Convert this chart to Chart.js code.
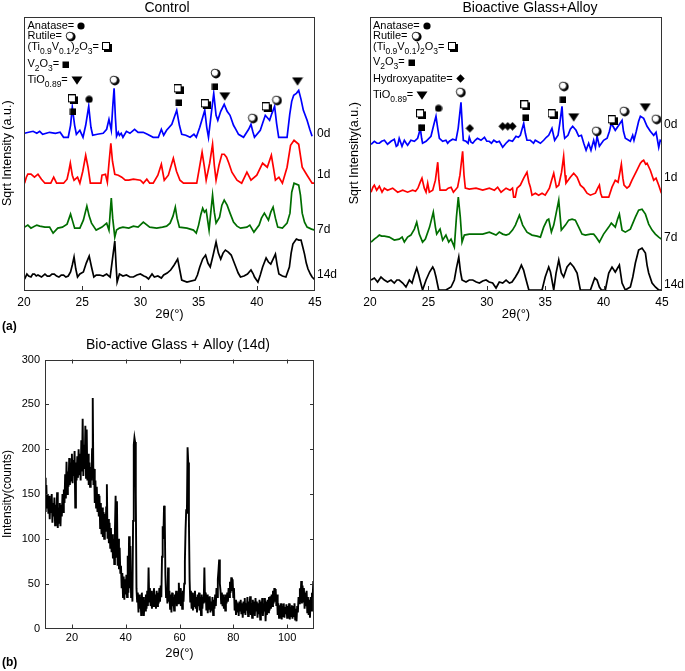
<!DOCTYPE html>
<html>
<head>
<meta charset="utf-8">
<script src="https://cdn.jsdelivr.net/npm/chart.js@4.4.0/dist/chart.umd.min.js"></script>
<style>
html, body { margin: 0; padding: 0; background: #fff; }
body { width: 685px; height: 671px; position: relative; overflow: hidden; }
canvas { position: absolute; }
.tag { position: absolute; font: bold 12px "Liberation Sans", Arial, sans-serif; color: #000; }
</style>
</head>
<body>
<canvas id="control" width="342" height="322" style="left:0;top:0"></canvas>
<canvas id="bioactive" width="343" height="322" style="left:342px;top:0"></canvas>
<canvas id="wide" width="342" height="341" style="left:0;top:330px"></canvas>
<div class="tag" style="left:2px;top:319px">(a)</div>
<div class="tag" style="left:2px;top:655px">(b)</div>
<script>
const FONT = '"Liberation Sans", Arial, sans-serif';
const INK = '#000';

// tick labels
const thetaTicks = [20, 25, 30, 35, 40, 45];
const wideTicks = [20, 40, 60, 80, 100];
const countTicks = [0, 50, 100, 150, 200, 250, 300];
const dayLabels = ['0d', '1d', '7d', '14d'];
const dayColors = ['#0000ff', '#ff0000', '#006e00', '#000000'];

// Control: [2theta, sqrt intensity above the trace baseline]
const control0d = [[20.05,4],[20.4,5],[20.78,6],[21.1,4],[21.35,6],[21.6,3],[22.2,5],[22.7,4],[23.1,5],[23.4,0],[23.8,0],[24.0,12],[24.15,30],[24.35,12],[24.5,3],[24.8,7],[25.07,0],[25.3,12],[25.56,31],[25.75,10],[25.9,2],[26.3,3],[26.8,4],[27.1,8],[27.3,18],[27.5,7],[27.62,30],[27.74,49],[27.85,20],[27.95,1],[28.1,5],[28.2,2],[28.35,4],[28.5,0],[28.8,6],[29.1,4],[29.5,8],[29.8,5],[30.24,5],[30.6,3],[31.1,0],[31.54,0],[31.8,8],[32.0,2],[32.25,7],[32.7,13],[33.12,27],[33.35,12],[33.55,3],[33.9,2],[34.27,0],[34.6,3],[34.8,0],[35.1,10],[35.53,27],[35.7,10],[35.85,0],[36.1,25],[36.3,44],[36.5,22],[36.65,17],[36.9,26],[37.2,33],[37.45,26],[37.7,22],[38.0,12],[38.2,8],[38.43,3],[38.86,0],[39.3,8],[39.5,13],[39.65,6],[39.8,0],[40.3,7],[40.5,14],[40.73,22],[41.1,17],[41.3,24],[41.53,31],[41.7,14],[41.88,0],[42.6,0],[42.83,23],[43.0,36],[43.17,42],[43.4,44],[43.6,47],[43.8,38],[44.0,27],[44.32,17],[44.55,8],[44.75,1]];
const control1d = [[20.05,0],[20.2,6],[20.33,9],[20.6,9],[20.9,6],[21.2,9],[21.5,4],[21.8,0],[22.3,0],[22.55,6],[22.8,0],[23.4,0],[23.7,4],[23.85,12],[23.98,20],[24.15,8],[24.3,3],[24.6,6],[24.8,0],[25.05,12],[25.3,28],[25.5,16],[25.7,0],[26.6,0],[26.7,8],[27.0,9],[27.16,1],[27.3,20],[27.46,40],[27.6,22],[27.8,9],[28.1,8],[28.4,6],[28.7,3],[29.0,3],[29.4,4],[30.0,3],[30.25,0],[30.55,4],[30.8,0],[31.1,0],[31.5,8],[31.8,19],[32.05,3],[32.4,8],[32.6,16],[32.83,25],[33.1,12],[33.4,3],[33.7,0],[34.84,0],[35.05,14],[35.3,31],[35.5,16],[35.65,3],[35.95,20],[36.2,39],[36.35,18],[36.5,3],[36.75,18],[37.0,29],[37.2,29],[37.4,26],[37.6,20],[37.86,11],[38.3,3],[38.7,0],[38.95,6],[39.15,11],[39.5,3],[40.0,8],[40.5,20],[40.9,16],[41.25,28],[41.45,14],[41.6,3],[41.9,6],[42.2,0],[42.6,16],[42.9,38],[43.2,43],[43.6,39],[43.9,16],[44.32,8],[44.75,0],[45.0,0]];
const control7d = [[20.05,3],[20.33,5],[20.6,2],[20.78,3],[21.1,5],[21.35,4],[21.8,3],[22.2,3],[22.5,-3],[22.9,2],[23.3,3],[23.7,6],[24.0,16],[24.2,8],[24.35,2],[24.8,2],[25.1,10],[25.4,24],[25.6,14],[25.8,7],[26.2,0],[26.7,3],[27.1,7],[27.3,0],[27.42,20],[27.5,32],[27.62,12],[27.8,-7],[27.95,0],[28.2,2],[28.5,3],[29.0,2],[29.4,4],[29.8,3],[30.25,8],[30.8,3],[31.4,2],[31.9,3],[32.25,4],[32.55,7],[32.8,14],[33.0,23],[33.15,12],[33.35,3],[34.0,2],[34.56,0],[34.8,-3],[35.0,5],[35.2,16],[35.35,22],[35.5,18],[35.65,20],[35.9,0],[36.05,18],[36.2,35],[36.35,18],[36.5,7],[36.8,13],[37.0,25],[37.2,30],[37.45,25],[37.7,17],[38.0,8],[38.3,4],[38.6,2],[39.15,3],[39.4,5],[39.75,-2],[40.2,5],[40.4,12],[40.65,17],[41.0,10],[41.2,18],[41.4,23],[41.6,12],[41.8,3],[42.2,2],[42.6,7],[42.85,17],[43.0,38],[43.2,47],[43.6,45],[43.75,35],[43.9,17],[44.1,8],[44.32,3],[44.7,1],[45.0,0]];
const control14d = [[20.05,-2],[20.25,3],[20.4,1],[20.6,0],[20.75,3],[20.9,3],[21.05,1],[21.2,2],[21.5,0],[21.8,3],[22.0,1],[22.2,1],[22.4,3],[22.6,3],[22.8,1],[23.0,0],[23.2,2],[23.4,2],[23.6,0],[23.8,1],[24.0,5],[24.15,12],[24.3,20],[24.45,8],[24.6,0],[24.8,3],[25.1,5],[25.35,14],[25.6,21],[25.8,10],[26.0,0],[26.2,2],[26.5,2],[26.8,1],[27.1,3],[27.4,0],[27.6,18],[27.8,36],[27.92,10],[28.0,-5],[28.2,3],[28.5,1],[28.8,2],[29.1,0],[29.4,0],[29.7,2],[30.0,3],[30.3,1],[30.5,0],[30.7,-2],[31.0,3],[31.2,0],[31.5,1],[31.8,-1],[32.0,2],[32.3,4],[32.6,7],[32.9,12],[33.2,18],[33.4,6],[33.55,-3],[34.0,-5],[34.7,-3],[34.9,2],[35.1,10],[35.35,18],[35.6,22],[35.8,14],[36.0,10],[36.25,22],[36.5,35],[36.7,24],[36.9,18],[37.1,24],[37.3,27],[37.55,25],[37.8,22],[38.0,16],[38.2,10],[38.4,4],[38.6,0],[38.9,1],[39.2,3],[39.5,7],[39.7,3],[39.8,0],[40.1,-5],[40.3,2],[40.5,10],[40.8,19],[41.0,15],[41.2,13],[41.4,18],[41.6,23],[41.75,12],[41.9,3],[42.2,1],[42.5,0],[42.8,10],[42.95,24],[43.1,33],[43.4,38],[43.6,37],[43.8,37],[43.95,30],[44.1,23],[44.25,14],[44.4,8],[44.6,3],[44.75,0],[45.0,-3]];
const controlOffsets = [153, 107, 60, 13];
const controlDayLevels = [157, 116, 60, 15];

// Bioactive Glass + Alloy
const bio0d = [[20.09,-1],[20.37,2],[20.6,0],[20.8,0],[21.0,2],[21.23,3],[21.5,-1],[21.8,2],[22.08,4],[22.25,-3],[22.37,-2],[22.5,5],[22.74,-3],[22.94,3],[23.1,0],[23.22,-2],[23.5,3],[23.8,2],[24.08,5],[24.2,10],[24.31,15],[24.42,5],[24.5,0],[24.8,2],[25.22,7],[25.45,18],[25.65,27],[25.8,15],[25.94,5],[26.22,2],[26.5,3],[26.65,0],[26.8,2],[27.08,4],[27.36,3],[27.55,15],[27.79,41],[27.9,18],[27.99,3],[28.22,2],[28.4,0],[28.5,6],[28.65,1],[28.8,0],[29.0,3],[29.2,5],[29.5,3],[29.8,6],[30.0,2],[30.2,2],[30.4,0],[30.6,3],[30.85,1],[31.07,2],[31.36,-4],[31.64,0],[31.9,3],[32.2,2],[32.5,7],[32.7,6],[32.87,8],[33.16,20],[33.3,10],[33.44,3],[33.73,3],[34.0,0],[34.15,3],[34.3,2],[34.59,0],[34.87,3],[35.1,6],[35.3,8],[35.58,15],[35.81,3],[36.1,8],[36.25,20],[36.44,37],[36.55,15],[36.67,5],[36.95,8],[37.15,14],[37.35,17],[37.64,13],[37.87,7],[38.1,8],[38.3,0],[38.5,-7],[38.72,0],[38.92,-7],[39.15,3],[39.3,-4],[39.44,7],[39.64,-3],[40.0,3],[40.3,5],[40.5,12],[40.66,20],[41.0,13],[41.24,17],[41.58,23],[41.7,12],[41.86,5],[42.29,2],[42.49,8],[42.6,3],[42.8,12],[43.0,22],[43.15,27],[43.43,25],[43.72,17],[44.0,12],[44.29,8],[44.49,11],[44.6,4],[44.72,-4],[44.85,3],[44.95,2]];
const bio1d = [[20.09,-2],[20.25,3],[20.37,5],[20.57,0],[20.8,4],[21.03,-2],[21.23,2],[21.5,0],[21.94,2],[22.37,-2],[22.8,0],[23.22,-2],[23.65,0],[23.9,-1],[24.1,2],[24.3,8],[24.45,12],[24.65,2],[24.8,-2],[24.94,7],[25.08,-2],[25.37,0],[25.6,10],[25.8,28],[25.9,10],[26.0,0],[26.5,0],[26.7,2],[26.94,3],[27.14,-2],[27.5,3],[27.7,15],[27.93,39],[28.05,15],[28.16,2],[28.5,1],[29.08,2],[29.65,0],[30.22,2],[30.65,0],[30.93,3],[31.22,-2],[31.65,2],[32.0,0],[32.2,2],[32.3,-7],[32.44,-7],[32.59,2],[32.87,5],[33.16,12],[33.44,18],[33.6,8],[33.73,3],[33.87,-5],[34.16,-3],[34.44,-5],[34.73,-3],[35.0,-5],[35.36,2],[35.55,10],[35.73,17],[35.96,3],[36.16,5],[36.4,18],[36.58,34],[36.7,15],[36.78,7],[37.15,13],[37.44,17],[37.73,13],[38.01,5],[38.3,2],[38.58,-3],[38.87,-5],[39.3,-3],[39.5,2],[39.64,5],[39.75,-3],[39.87,-7],[40.44,-7],[40.72,3],[41.0,10],[41.24,8],[41.4,18],[41.52,26],[41.65,12],[41.75,5],[42.0,2],[42.2,4],[42.43,10],[42.86,20],[43.15,27],[43.3,29],[43.43,30],[43.6,26],[43.72,27],[44.0,20],[44.29,10],[44.49,12],[44.72,5],[44.95,-3]];
const bio7d = [[20.09,-5],[20.37,-2],[20.6,0],[20.8,2],[21.0,1],[21.23,1],[21.65,0],[22.08,-3],[22.5,-2],[22.75,0],[22.94,-5],[23.22,0],[23.5,2],[23.8,8],[24.0,15],[24.22,3],[24.5,-5],[24.74,-2],[25.1,10],[25.42,25],[25.6,10],[25.71,3],[26.0,8],[26.22,-3],[26.5,2],[26.74,-5],[26.94,-2],[27.22,-10],[27.4,20],[27.56,40],[27.73,20],[27.88,-5],[28.08,2],[28.5,3],[29.08,3],[29.65,3],[30.22,5],[30.79,2],[31.07,5],[31.36,3],[31.65,2],[31.9,3],[32.2,7],[32.45,12],[32.79,22],[33.07,12],[33.44,5],[33.87,2],[34.3,1],[34.59,0],[34.87,10],[35.16,17],[35.3,18],[35.53,5],[35.73,12],[35.87,20],[36.16,37],[36.38,7],[36.73,12],[37.01,17],[37.3,18],[37.58,17],[37.87,10],[38.15,3],[38.44,2],[38.87,3],[39.15,3],[39.35,0],[39.64,-5],[40.0,3],[40.44,10],[40.66,14],[41.0,10],[41.2,18],[41.35,23],[41.58,7],[41.86,5],[42.29,8],[42.72,20],[43.0,27],[43.29,28],[43.58,23],[43.86,13],[44.15,7],[44.43,3],[44.72,0],[44.95,-2]];
const bio14d = [[20.09,0],[20.37,2],[20.65,-2],[20.94,3],[21.23,0],[21.5,-2],[21.8,0],[22.08,-3],[22.3,0],[22.5,0],[22.8,-3],[23.08,-7],[23.37,0],[23.6,-3],[23.8,5],[24.0,12],[24.15,6],[24.28,0],[24.5,-10],[24.8,0],[25.1,8],[25.37,13],[25.5,10],[25.65,3],[25.88,-10],[26.5,-10],[26.94,-7],[27.22,0],[27.4,12],[27.6,23],[27.75,8],[27.88,0],[28.22,-2],[28.5,0],[28.8,0],[29.1,-2],[29.37,-3],[29.65,-1],[29.94,0],[30.2,-2],[30.5,-3],[30.79,-8],[31.07,-2],[31.36,-3],[31.65,0],[31.94,-3],[32.16,-2],[32.45,3],[32.7,8],[32.96,15],[33.15,10],[33.3,3],[33.6,-10],[34.73,-10],[35.0,3],[35.3,13],[35.45,8],[35.53,3],[35.73,-10],[35.93,7],[36.16,20],[36.38,7],[36.58,3],[36.87,13],[37.15,17],[37.44,13],[37.73,7],[38.01,-10],[38.87,-10],[39.24,2],[39.44,0],[39.64,-7],[39.81,-10],[40.15,-10],[40.44,7],[40.72,13],[41.0,8],[41.35,15],[41.58,-3],[41.86,-10],[42.29,-7],[42.5,3],[42.72,17],[43.0,30],[43.29,32],[43.58,27],[43.72,15],[43.86,7],[44.15,-3],[44.43,-7],[44.72,-10],[44.95,-10]];
const bioOffsets = [147, 100, 53, 10];
const bioDayLevels = [166, 113, 52, 5];

// phase markers [2theta, level]
const controlPhases = {
  anatase: [[25.6,191]],
  rutile: [[27.76,210],[36.45,217],[39.65,172],[41.72,190]],
  ti2o3: [[24.2,191],[33.28,201],[35.62,186],[40.85,183]],
  v2o3: [[24.2,179],[33.28,188],[36.4,204]],
  tio: [[37.25,194],[43.5,209]]
};
const bioPhases = {
  anatase: [[25.87,182]],
  rutile: [[27.76,198],[36.58,204],[39.4,159],[41.77,179],[44.51,171]],
  ti2o3: [[24.37,176],[33.3,185],[35.64,176],[40.78,170]],
  v2o3: [[24.37,163],[33.3,173],[36.5,191]],
  ha: [[28.55,162],[31.36,164],[31.79,164],[32.2,164]],
  tio: [[37.44,173],[43.57,183]]
};

// Bio-active Glass + Alloy (14d), counts every 0.25 deg from 10 deg
const wideStart = 10;
const wideStep = 0.25;
const wideCounts = [
  168,130,160,135,150,128,148,122,145,130,150,118,140,125,146,115,138,120,152,112,
  135,118,140,114,138,125,150,130,155,140,172,145,186,150,175,158,190,160,185,165,
  195,162,188,170,198,135,185,165,192,168,200,172,195,165,210,175,234,170,205,178,
  226,168,222,165,195,160,185,158,180,165,200,257,160,178,140,165,135,158,130,150,
  125,148,112,140,105,135,102,130,100,128,108,135,161,100,122,95,118,90,112,85,
  105,78,100,72,110,148,80,142,70,100,66,90,62,70,45,62,35,58,32,55,
  38,60,35,81,40,103,45,92,35,55,30,120,205,213,208,150,45,30,40,18,
  38,22,35,15,40,20,35,14,32,20,38,22,42,25,68,30,45,25,42,22,
  40,25,45,28,38,22,42,25,40,28,45,30,48,35,80,114,100,137,130,60,
  35,45,28,68,30,42,22,38,18,40,25,35,20,38,28,42,25,40,28,51,
  30,45,25,40,22,42,30,50,75,110,133,128,202,185,120,55,30,42,22,40,
  20,38,25,42,22,35,18,38,25,40,20,35,15,38,22,35,28,68,30,40,
  20,38,17,35,22,36,18,30,20,35,15,32,22,38,25,45,35,55,65,77,
  50,42,28,40,25,38,22,35,20,38,28,40,30,45,35,52,40,57,42,55,
  35,45,20,32,15,30,18,28,14,30,20,32,16,28,12,30,18,34,15,28,
  20,35,14,30,18,36,15,28,12,32,18,30,14,34,20,30,12,28,16,32,
  10,30,18,34,14,28,20,34,8,30,15,32,18,35,20,36,22,38,25,42,
  28,45,30,44,25,38,15,28,12,26,15,28,10,25,14,28,12,24,16,27,
  12,25,15,28,10,24,14,26,11,25,13,28,10,22,8,25,18,35,28,45,
  30,53,28,48,30,45,22,40,25,42,18,35,15,32,12,35,20,40,35,53,
  45
];

// legend rows: text runs, [text, isSubscript]
const keyAnatase = { parts: [['Anatase= ', 0]], sym: 'anatase' };
const keyRutile = { parts: [['Rutile= ', 0]], sym: 'rutile' };
const keyTi2o3 = { parts: [['(Ti', 0], ['0.9', 1], ['V', 0], ['0.1', 1], [')', 0], ['2', 1], ['O', 0], ['3', 1], ['= ', 0]], sym: 'ti2o3' };
const keyV2o3 = { parts: [['V', 0], ['2', 1], ['O', 0], ['3', 1], ['= ', 0]], sym: 'v2o3' };
const keyHa = { parts: [['Hydroxyapatite= ', 0]], sym: 'ha' };
const keyTio = { parts: [['TiO', 0], ['0.89', 1], ['= ', 0]], sym: 'tio' };

function makeSymbol(w, h, draw) {
  const c = document.createElement('canvas');
  c.width = w;
  c.height = h;
  const g = c.getContext('2d');
  g.fillStyle = '#000';
  g.strokeStyle = '#000';
  draw(g);
  return c;
}

const symbols = {
  anatase: makeSymbol(8, 8, g => { g.beginPath(); g.arc(4, 4, 3.6, 0, Math.PI * 2); g.fill(); }),
  rutile: makeSymbol(11, 11, g => {
    g.beginPath(); g.arc(6, 5.8, 4.6, 0, Math.PI * 2); g.fill();
    g.fillStyle = '#fff'; g.lineWidth = 0.8;
    g.beginPath(); g.arc(4.8, 4.8, 3.6, 0, Math.PI * 2); g.fill(); g.stroke();
  }),
  ti2o3: makeSymbol(10, 10, g => {
    g.fillRect(2, 2, 8, 8);
    g.fillStyle = '#fff';
    g.fillRect(0.5, 0.5, 7, 7);
    g.lineWidth = 1;
    g.strokeRect(0.5, 0.5, 7, 7);
  }),
  v2o3: makeSymbol(7, 7, g => g.fillRect(0.5, 0.5, 6.5, 6.5)),
  tio: makeSymbol(12, 9, g => { g.beginPath(); g.moveTo(0.5, 0.5); g.lineTo(11.5, 0.5); g.lineTo(6, 8.8); g.closePath(); g.fill(); }),
  ha: makeSymbol(9, 9, g => { g.beginPath(); g.moveTo(4.5, 0.3); g.lineTo(8.7, 4.5); g.lineTo(4.5, 8.7); g.lineTo(0.3, 4.5); g.closePath(); g.fill(); })
};

// frame, inward ticks, titles, key and day labels
const decorPlugin = {
  id: 'decor',
  afterDatasetsDraw(chart, args, opts) {
    const { ctx, chartArea: a, scales } = chart;
    ctx.save();
    ctx.strokeStyle = '#333';
    ctx.lineWidth = 1;
    ctx.strokeRect(Math.round(a.left) + 0.5, Math.round(a.top) + 0.5, Math.round(a.right - a.left) - 1, Math.round(a.bottom - a.top) - 1);

    const tl = 4;
    ctx.beginPath();
    scales.x.ticks.forEach(t => {
      const px = Math.round(scales.x.getPixelForValue(t.value)) + 0.5;
      if (px < a.left + 2 || px > a.right - 2) return;
      if (opts.xTickSides.includes('bottom')) { ctx.moveTo(px, a.bottom); ctx.lineTo(px, a.bottom - tl); }
      if (opts.xTickSides.includes('top')) { ctx.moveTo(px, a.top); ctx.lineTo(px, a.top + tl); }
    });
    scales.y.ticks.forEach(t => {
      const py = Math.round(scales.y.getPixelForValue(t.value)) + 0.5;
      if (py < a.top + 2 || py > a.bottom - 2) return;
      if (opts.yTickSides.includes('left')) { ctx.moveTo(a.left, py); ctx.lineTo(a.left + tl, py); }
      if (opts.yTickSides.includes('right')) { ctx.moveTo(a.right, py); ctx.lineTo(a.right - tl, py); }
    });
    ctx.stroke();

    ctx.fillStyle = INK;
    ctx.textBaseline = 'middle';
    ctx.textAlign = 'center';
    ctx.font = `14px ${FONT}`;
    ctx.fillText(opts.title.text, opts.title.x, opts.title.y);

    ctx.textAlign = 'left';
    if (opts.key) {
      opts.key.rows.forEach((row, i) => {
        let x = a.left + opts.key.x;
        const y = a.top + opts.key.rowY[i];
        row.parts.forEach(([txt, sub]) => {
          ctx.font = sub ? `8.5px ${FONT}` : `11px ${FONT}`;
          ctx.fillText(txt, x, sub ? y + 4.5 : y);
          x += ctx.measureText(txt).width;
        });
        const img = symbols[row.sym];
        ctx.drawImage(img, Math.round(x), Math.round(y - img.height / 2));
      });
    }

    if (opts.days) {
      ctx.font = `12px ${FONT}`;
      opts.days.labels.forEach((lab, i) => {
        ctx.fillText(lab, a.right + 2, scales.y.getPixelForValue(opts.days.levels[i]));
      });
    }
    ctx.restore();
  }
};

function phaseDatasets(phases) {
  return Object.keys(phases).map(name => ({
    data: phases[name].map(([x, y]) => ({ x, y })),
    showLine: false,
    pointStyle: symbols[name],
    pointRadius: 5,
    order: 0
  }));
}

function traceDatasets(traces, offsets) {
  return traces.map((tr, i) => ({
    data: tr.map(([x, y]) => ({ x, y: y + offsets[i] })),
    showLine: true,
    borderColor: dayColors[i],
    borderWidth: 1.7,
    pointRadius: 0,
    tension: 0,
    order: 1
  }));
}

function xrdPanel(id, opts) {
  return new Chart(document.getElementById(id), {
    type: 'scatter',
    data: { datasets: [...phaseDatasets(opts.phases), ...traceDatasets(opts.traces, opts.offsets)] },
    options: {
      responsive: false,
      animation: false,
      events: [],
      layout: { padding: { left: 0, right: opts.padRight, top: 16.5, bottom: 0 } },
      plugins: {
        legend: { display: false },
        tooltip: { enabled: false },
        decor: {
          title: opts.title,
          xTickSides: ['bottom'],
          yTickSides: [],
          key: { rows: opts.keyRows, rowY: opts.keyRowY, x: opts.keyX },
          days: { labels: dayLabels, levels: opts.dayLevels }
        }
      },
      scales: {
        x: {
          type: 'linear', min: 20, max: 45,
          afterBuildTicks: s => { s.ticks = thetaTicks.map(v => ({ value: v })); },
          afterFit: s => { s.height = 32; },
          grid: { display: false, drawTicks: false },
          border: { display: false },
          ticks: { color: INK, font: { family: FONT, size: 12 }, padding: 5, maxRotation: 0, autoSkip: false },
          title: { display: true, text: '2θ(°)', color: INK, font: { family: FONT, size: 13 }, padding: { top: 0, bottom: 0 } }
        },
        y: {
          type: 'linear', min: 0, max: 274,
          afterFit: s => { s.width = opts.yWidth; },
          grid: { display: false, drawTicks: false },
          border: { display: false },
          ticks: { display: false },
          title: { display: true, text: opts.yTitle, color: INK, font: { family: FONT, size: 12.5 }, padding: { top: opts.yTitlePad, bottom: 0 } }
        }
      }
    },
    plugins: [decorPlugin]
  });
}

xrdPanel('control', {
  title: { text: 'Control', x: 167, y: 8.5 },
  yTitle: 'Sqrt Intensity (a.u.)', yTitlePad: 0, yWidth: 24, padRight: 27,
  traces: [control0d, control1d, control7d, control14d],
  offsets: controlOffsets, dayLevels: controlDayLevels,
  phases: controlPhases,
  keyRows: [keyAnatase, keyRutile, keyTi2o3, keyV2o3, keyTio],
  keyRowY: [9.5, 19.5, 30.5, 47.5, 63.5], keyX: 3.5
});

xrdPanel('bioactive', {
  title: { text: 'Bioactive Glass+Alloy', x: 188, y: 8 },
  yTitle: 'Sqrt Intensity(a.u.)', yTitlePad: 5, yWidth: 28, padRight: 23,
  traces: [bio0d, bio1d, bio7d, bio14d],
  offsets: bioOffsets, dayLevels: bioDayLevels,
  phases: bioPhases,
  keyRows: [keyAnatase, keyRutile, keyTi2o3, keyV2o3, keyHa, keyTio],
  keyRowY: [9, 19.5, 30.5, 45.5, 62, 78.5], keyX: 3
});

new Chart(document.getElementById('wide'), {
  type: 'scatter',
  data: {
    datasets: [{
      data: wideCounts.map((c, i) => ({ x: wideStart + i * wideStep, y: c })),
      showLine: true,
      borderColor: '#000',
      borderWidth: 1.9,
      pointRadius: 0,
      tension: 0
    }]
  },
  options: {
    responsive: false,
    animation: false,
    events: [],
    layout: { padding: { left: 0, right: 28, top: 29.5, bottom: 10 } },
    plugins: {
      legend: { display: false },
      tooltip: { enabled: false },
      decor: {
        title: { text: 'Bio-active Glass + Alloy (14d)', x: 178, y: 15 },
        xTickSides: ['bottom', 'top'],
        yTickSides: ['left', 'right']
      }
    },
    scales: {
      x: {
        type: 'linear', min: 10, max: 110,
        afterBuildTicks: s => { s.ticks = wideTicks.map(v => ({ value: v })); },
        afterFit: s => { s.height = 32.5; },
        grid: { display: false, drawTicks: false },
        border: { display: false },
        ticks: { color: INK, font: { family: FONT, size: 11 }, padding: 3, maxRotation: 0, autoSkip: false },
        title: { display: true, text: '2θ(°)', color: INK, font: { family: FONT, size: 13 }, padding: { top: 0, bottom: 0 } }
      },
      y: {
        type: 'linear', min: 0, max: 300,
        afterBuildTicks: s => { s.ticks = countTicks.map(v => ({ value: v })); },
        afterFit: s => { s.width = 45; },
        grid: { display: false, drawTicks: false },
        border: { display: false },
        ticks: { color: INK, font: { family: FONT, size: 11 }, padding: 5, autoSkip: false },
        title: { display: true, text: 'Intensity(counts)', color: INK, font: { family: FONT, size: 12 }, padding: { top: 0, bottom: 0 } }
      }
    }
  },
  plugins: [decorPlugin]
});
</script>
</body>
</html>
